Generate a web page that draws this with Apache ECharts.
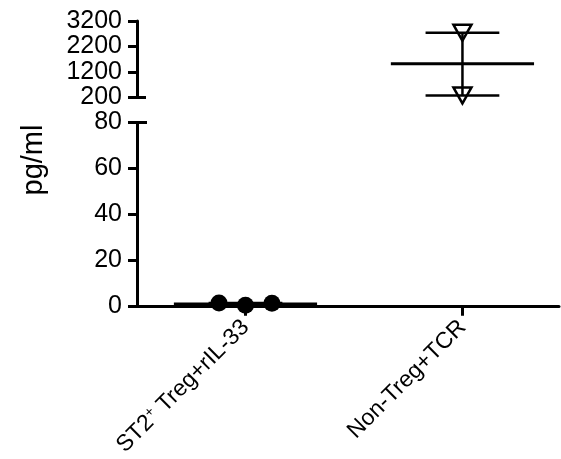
<!DOCTYPE html>
<html>
    <head>
        <meta charset="utf-8">
        <title>pg/ml</title>
        <script src="https://cdn.jsdelivr.net/npm/echarts@6/dist/echarts.min.js"></script>
        <style>
            html, body { margin: 0; padding: 0; background: #fff; }
        </style>
    </head>
    <body>
        <div id="chart" style="width: 561px;height: 459px;"></div>
        <script>
            // data
            var categories = ['ST2⁺ Treg+rIL-33', 'Non-Treg+TCR'];
            var st2Values = [1.2, 0.2, 1.1];
            var nonTregValues = [2740, 280];
            var means = [0.8, 1520];
            var errLow = [0.4, 280];
            var errHigh = [1.2, 2740];
            var upperTicks = [200, 1200, 2200, 3200];
            var lowerTicks = [0, 20, 40, 60, 80];

            var myChart = echarts.init(document.getElementById('chart'));
            var font = 'Liberation Sans, Arial, Helvetica, sans-serif';

            function meanErr(params, api) {
                var x = api.value(0), m = api.value(1), lo = api.value(2), hi = api.value(3);
                var a = api.coord([x - 0.33, m]), b = api.coord([x + 0.33, m]);
                var t = api.coord([x, hi]), d = api.coord([x, lo]);
                var capL = api.coord([x - 0.17, hi]), capR = api.coord([x + 0.17, hi]);
                var capL2 = api.coord([x - 0.17, lo]), capR2 = api.coord([x + 0.17, lo]);
                var st = { stroke: '#000', lineWidth: 2.5 };
                return {
                    type: 'group',
                    children: [
                        { type: 'line', shape: { x1: a[0], y1: a[1], x2: b[0], y2: b[1] }, style: { stroke: '#000', lineWidth: 3 } },
                        { type: 'line', shape: { x1: t[0], y1: t[1], x2: d[0], y2: d[1] }, style: st },
                        { type: 'line', shape: { x1: capL[0], y1: capL[1], x2: capR[0], y2: capR[1] }, style: st },
                        { type: 'line', shape: { x1: capL2[0], y1: capL2[1], x2: capR2[0], y2: capR2[1] }, style: st }
                    ]
                };
            }

            var axisLine = { show: true, onZero: false, lineStyle: { color: '#000', width: 3 } };
            var labelStyle = {
                color: '#000', fontSize: 25, fontFamily: font, margin: 15,
                showMinLabel: true, showMaxLabel: true, hideOverlap: false,
                formatter: function (v) { return String(v); }
            };

            option = {
                backgroundColor: '#fff',
                animation: false,
                grid: [
                    { left: 137, top: 21, width: 422, height: 76.5 },
                    { left: 137, top: 122.5, width: 422, height: 184.5 }
                ],
                graphic: [{
                    type: 'text',
                    x: 34,
                    y: 160,
                    rotation: Math.PI / 2,
                    style: {
                        text: 'pg/ml',
                        fill: '#000',
                        font: '29px ' + font,
                        align: 'center',
                        verticalAlign: 'middle'
                    }
                }],
                xAxis: [{
                    gridIndex: 0, type: 'value', min: -0.5, max: 1.445, show: false
                }, {
                    gridIndex: 1, type: 'value', min: -0.5, max: 1.445,
                    axisLine: axisLine,
                    splitLine: { show: false },
                    axisTick: { show: true, customValues: [0, 1], length: 10, lineStyle: { color: '#000', width: 3 } },
                    axisLabel: {
                        customValues: [0, 1],
                        rotate: 45,
                        margin: 18,
                        color: '#000',
                        fontSize: 23,
                        fontFamily: font,
                        formatter: function (v) {
                            return categories[Math.round(v)].replace('⁺', '{sup|+}');
                        },
                        rich: { sup: { fontSize: 14, verticalAlign: 'top', fontFamily: font, color: '#000', padding: [0, 0, 10, 0] } }
                    }
                }],
                yAxis: [{
                    gridIndex: 0, type: 'value', min: 200, max: 3200, position: 'left',
                    axisLine: axisLine,
                    splitLine: { show: false },
                    axisTick: { customValues: upperTicks, length: 9, lineStyle: { color: '#000', width: 3 } },
                    axisLabel: Object.assign({ customValues: upperTicks }, labelStyle)
                }, {
                    gridIndex: 0, type: 'value', min: 200, max: 3200, position: 'left',
                    axisLine: { show: false, onZero: false },
                    splitLine: { show: false },
                    axisTick: { inside: true, customValues: [200], length: 9, lineStyle: { color: '#000', width: 3 } },
                    axisLabel: { show: false }
                }, {
                    gridIndex: 1, type: 'value', min: 0, max: 80, position: 'left',
                    axisLine: axisLine,
                    splitLine: { show: false },
                    axisTick: { customValues: lowerTicks, length: 9, lineStyle: { color: '#000', width: 3 } },
                    axisLabel: Object.assign({ customValues: lowerTicks }, labelStyle)
                }, {
                    gridIndex: 1, type: 'value', min: 0, max: 80, position: 'left',
                    axisLine: { show: false, onZero: false },
                    splitLine: { show: false },
                    axisTick: { inside: true, customValues: [80], length: 10, lineStyle: { color: '#000', width: 3 } },
                    axisLabel: { show: false }
                }],
                series: [{
                    type: 'custom',
                    xAxisIndex: 1, yAxisIndex: 2,
                    renderItem: meanErr,
                    data: [[0, means[0], errLow[0], errHigh[0]]],
                    z: 2
                }, {
                    type: 'scatter',
                    xAxisIndex: 1, yAxisIndex: 2,
                    symbol: 'circle',
                    symbolSize: 17,
                    itemStyle: { color: '#000', opacity: 1 },
                    data: st2Values.map(function (v, i) { return [(i - 1) * 0.122, v]; }),
                    z: 3
                }, {
                    type: 'custom',
                    xAxisIndex: 0, yAxisIndex: 0,
                    renderItem: meanErr,
                    data: [[1, means[1], errLow[1], errHigh[1]]],
                    z: 2
                }, {
                    type: 'scatter',
                    xAxisIndex: 0, yAxisIndex: 0,
                    symbol: 'triangle',
                    symbolRotate: 180,
                    symbolSize: [18, 16],
                    itemStyle: { color: 'rgba(255,255,255,0)', borderColor: '#000', borderWidth: 2.5, opacity: 1 },
                    data: nonTregValues.map(function (v) { return [1, v]; }),
                    z: 3
                }]
            };

            myChart.setOption(option);
        </script>
    </body>
</html>
